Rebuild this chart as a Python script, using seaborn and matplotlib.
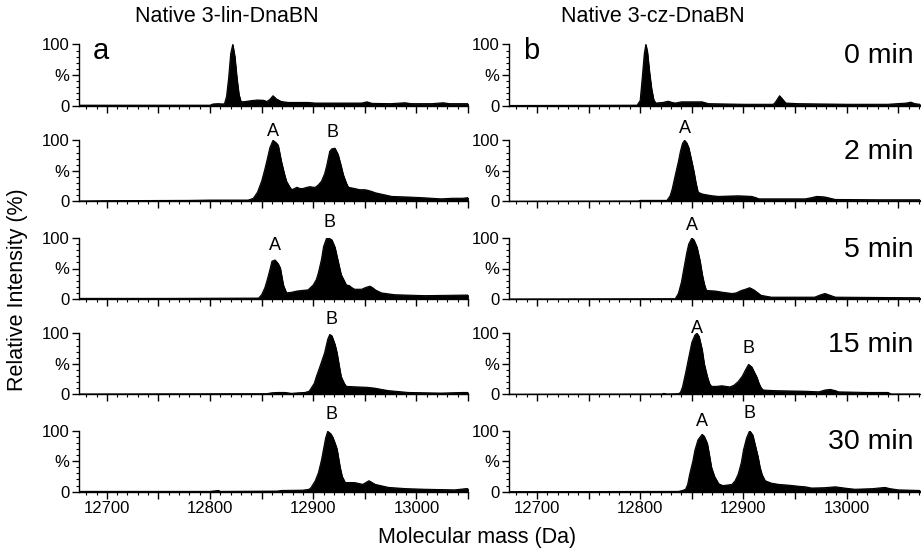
import matplotlib
matplotlib.use("Agg")
import matplotlib.pyplot as plt
import seaborn as sns
from matplotlib.ticker import FixedLocator, MultipleLocator, FuncFormatter

# ---- spectra (mass in Da, intensity in %) ----
lin_0_mass = [12673, 12800, 12803, 12808, 12812, 12814, 12816, 12818, 12820, 12822, 12824, 12826,
              12828, 12830, 12834, 12840, 12846, 12852, 12855, 12858, 12861, 12864, 12869, 12876,
              12895, 12902, 12930, 12947, 12952, 12957, 12975, 12989, 12995, 13015, 13026, 13032, 13050]
lin_0_int = [0.5, 0.5, 2.5, 3, 2.5, 3, 15, 45, 85, 100, 80, 45,
             18, 6, 6.5, 8, 9, 8.5, 6.5, 10, 16, 11, 6.5, 5,
             5, 4, 4, 4, 6, 3.5, 3, 4.5, 3, 3, 4.5, 3, 3]

lin_2_mass = [12673, 12700, 12780, 12800, 12837, 12842, 12846, 12850, 12853, 12855, 12858, 12861,
              12864, 12866, 12869, 12872, 12874, 12877, 12879, 12882, 12884, 12887, 12890, 12894,
              12897, 12900, 12902, 12905, 12908, 12911, 12913, 12916, 12918, 12921, 12924, 12927,
              12929, 12932, 12934, 12937, 12940, 12945, 12950, 12953, 12957, 12960, 12968, 12976,
              12992, 13005, 13024, 13035, 13045, 13050]
lin_2_int = [0.5, 1, 1.5, 2, 2, 5, 15, 33, 52, 66, 88, 100,
             96, 92, 66, 45, 33, 24, 19, 21, 23, 21, 21, 23,
             24, 23, 23, 27, 33, 45, 58, 82, 86, 87, 77, 58,
             44, 30, 23, 22, 21, 19, 19, 18, 16, 14, 11, 8,
             7, 6, 4, 5, 5, 6]

lin_5_mass = [12673, 12760, 12847, 12850, 12853, 12855, 12858, 12860, 12863, 12866, 12868, 12871,
              12874, 12879, 12884, 12889, 12895, 12900, 12903, 12905, 12908, 12910, 12913, 12916,
              12918, 12921, 12923, 12925, 12927, 12930, 12932, 12935, 12937, 12940, 12947, 12951,
              12955, 12958, 12960, 12966, 12979, 13008, 13030, 13050]
lin_5_int = [1, 1, 1.5, 7, 18, 29, 48, 62, 64, 58, 51, 23,
             10, 11, 13, 14, 15, 23, 32, 43, 65, 86, 100, 99,
             97, 85, 70, 55, 40, 30, 23, 22, 19, 16, 16, 19,
             21, 18, 15, 10, 7, 5.5, 6, 6.5]

lin_15_mass = [12673, 12855, 12860, 12866, 12873, 12879, 12886, 12892, 12896, 12898, 12901, 12903,
               12907, 12911, 12914, 12916, 12918, 12921, 12923, 12925, 12927, 12930, 12932, 12944,
               12952, 12960, 12966, 12973, 12992, 13024, 13045, 13050]
lin_15_int = [0.5, 1, 2.5, 3, 3, 1.5, 2.5, 3, 5, 10, 18, 29,
              48, 68, 90, 98, 96, 82, 68, 48, 29, 18, 13, 12,
              11.5, 10, 8, 6, 3, 2, 3, 3]

lin_30_mass = [12673, 12800, 12808, 12810, 12865, 12869, 12890, 12896, 12898, 12902, 12905, 12908,
               12910, 12912, 12914, 12917, 12919, 12921, 12923, 12926, 12928, 12931, 12940, 12948,
               12951, 12954, 12957, 12960, 12973, 12990, 13008, 13037, 13048, 13050]
lin_30_int = [0.5, 0.5, 2, 0.5, 1, 2, 2.5, 4, 7, 18, 31, 52,
              70, 88, 99, 95, 89, 80, 70, 40, 25, 15, 15, 12,
              15, 18, 15, 12, 7, 5, 4, 3, 5, 5]

cz_0_mass = [12673, 12797, 12800, 12802, 12804, 12805.5, 12807, 12809, 12811, 12813, 12815, 12822,
             12827, 12831, 12834, 12840, 12850, 12860, 12866, 12900, 12929, 12931, 12935, 12938,
             12941, 12953, 13000, 13040, 13058, 13062, 13066, 13071]
cz_0_int = [0, 0.5, 8, 45, 85, 100, 88, 55, 28, 10, 4, 5,
            7, 5, 4, 6, 6, 6, 3, 2, 2, 5.5, 16, 10,
            4, 3, 2, 2, 4, 5.5, 3, 2]

cz_2_mass = [12673, 12798, 12800, 12826, 12829, 12831, 12834, 12837, 12839, 12841, 12843, 12845,
             12847, 12850, 12852, 12854, 12856, 12860, 12863, 12870, 12876, 12885, 12895, 12902,
             12908, 12912, 12915, 12960, 12966, 12971, 12976, 12979, 12984, 12989, 13030, 13071]
cz_2_int = [0, 0.5, 1.5, 1.5, 9, 20, 43, 65, 82, 95, 100, 96,
            88, 65, 49, 30, 15, 12, 11, 9, 8, 8.5, 9, 8.5,
            8, 6, 4, 4, 6, 8, 7.5, 7, 5, 3, 2.5, 2.5]

cz_5_mass = [12673, 12834, 12837, 12840, 12842, 12845, 12847, 12850, 12852, 12855, 12858, 12860,
             12862, 12864, 12873, 12880, 12889, 12893, 12898, 12902, 12906, 12910, 12914, 12917,
             12927, 12969, 12975, 12979, 12984, 12989, 13071]
cz_5_int = [0, 0.5, 9, 28, 47, 75, 90, 100, 97, 85, 62, 41,
            25, 14, 13, 11, 9, 10, 14, 16, 18.5, 15, 10, 6,
            3, 3, 7, 9, 6, 3, 2]

cz_15_mass = [12673, 12821, 12823, 12826, 12837, 12839, 12841, 12844, 12847, 12850, 12853, 12855,
              12857, 12860, 12862, 12865, 12867, 12869, 12874, 12879, 12883, 12887, 12891, 12895,
              12899, 12902, 12905, 12908, 12910, 12913, 12915, 12917, 12919, 12930, 12944, 12960,
              12973, 12979, 12984, 12989, 12992, 13020, 13040, 13043, 13071]
cz_15_int = [0, 0.5, 1.5, 0.5, 1, 3, 12, 35, 60, 85, 97, 100,
             95, 73, 50, 29, 18, 13, 13, 14, 13, 12, 15, 21,
             30, 40, 49, 45, 38, 28, 18, 11, 7, 6, 5.5, 5,
             4, 7, 8, 6, 4, 3, 3, 0.5, 0.5]

cz_30_mass = [12673, 12837, 12841, 12844, 12846, 12848, 12851, 12853, 12856, 12860, 12862, 12865,
              12867, 12869, 12872, 12876, 12880, 12885, 12889, 12892, 12895, 12898, 12900, 12903,
              12906, 12909, 12911, 12914, 12916, 12918, 12921, 12927, 12934, 12945, 12953, 12960,
              12966, 12978, 12989, 13000, 13008, 13025, 13037, 13042, 13050, 13071]
cz_30_int = [0, 0.5, 2, 4, 12, 29, 50, 68, 85, 94, 91, 79,
             60, 40, 25, 13, 10, 11, 12, 18, 29, 48, 68, 88,
             100, 93, 79, 58, 40, 28, 18, 14, 12, 10.5, 9, 8,
             6, 6.5, 8, 5.5, 4, 5, 7, 5, 3, 2]

times = ["0 min", "2 min", "5 min", "15 min", "30 min"]
col_titles = ["Native 3-lin-DnaBN", "Native 3-cz-DnaBN"]
panel_letters = ["a", "b"]

lin_traces = [(lin_0_mass, lin_0_int), (lin_2_mass, lin_2_int), (lin_5_mass, lin_5_int),
              (lin_15_mass, lin_15_int), (lin_30_mass, lin_30_int)]
cz_traces = [(cz_0_mass, cz_0_int), (cz_2_mass, cz_2_int), (cz_5_mass, cz_5_int),
             (cz_15_mass, cz_15_int), (cz_30_mass, cz_30_int)]

# peak labels: (text, mass, height above axis in % units)
lin_labels = [[], [("A", 12861, 114), ("B", 12919, 113)], [("A", 12863, 87), ("B", 12916, 125)],
              [("B", 12918, 123)], [("B", 12918, 127)]]
cz_labels = [[], [("A", 12843, 120)], [("A", 12850, 120)],
             [("A", 12855, 108), ("B", 12905, 75)], [("A", 12860, 115), ("B", 12906, 128)]]

sns.set_theme(style="ticks")
plt.rcParams["font.family"] = ["Liberation Sans", "DejaVu Sans"]
for key in ("text.color", "axes.labelcolor", "xtick.color", "ytick.color", "axes.edgecolor"):
    plt.rcParams[key] = "black"

W, H = 921, 549
fig = plt.figure(figsize=(W / 100, H / 100), dpi=100)

row_bottoms = [105.5, 201.3, 299.0, 394.3, 491.7]
row_h = 61.0
cols = [(79, 389, (12673, 13050)), (509, 411, (12673, 13071))]


def draw_panel(ax, mass, inten, xlim, bottom_row):
    sns.lineplot(x=mass, y=inten, color="black", lw=0.8, ax=ax, sort=False)
    ax.fill_between(mass, inten, 0, facecolor="black", edgecolor="black", lw=0.6)
    ax.set_xlim(*xlim)
    ax.set_ylim(0, 100)
    for s in ("top", "right"):
        ax.spines[s].set_visible(False)
    for s in ("left", "bottom"):
        ax.spines[s].set_linewidth(1.0)
    ax.yaxis.set_major_locator(FixedLocator([0, 50, 100]))
    ax.set_yticklabels(["0", "%", "100"])
    ax.yaxis.set_minor_locator(MultipleLocator(10))
    ax.xaxis.set_major_locator(MultipleLocator(50))
    ax.xaxis.set_minor_locator(MultipleLocator(10))
    ax.xaxis.set_major_formatter(
        FuncFormatter(lambda v, p: f"{v:.0f}" if round(v) % 100 == 0 else ""))
    ax.tick_params(which="major", direction="out", length=5, width=1, labelsize=12, pad=2)
    ax.tick_params(which="minor", direction="out", length=2.5, width=0.8)
    if not bottom_row:
        ax.tick_params(axis="x", labelbottom=False)
    ax.set_xlabel("")
    ax.set_ylabel("")
    ax.grid(False)


for c, (x0, w, xlim) in enumerate(cols):
    traces = lin_traces if c == 0 else cz_traces
    labels = lin_labels if c == 0 else cz_labels
    for r in range(5):
        ax = fig.add_axes([x0 / W, 1 - row_bottoms[r] / H, w / W, row_h / H])
        mass, inten = traces[r]
        draw_panel(ax, mass, inten, xlim, r == 4)
        for txt, mx, my in labels[r]:
            ax.text(mx, my, txt, ha="center", va="center", fontsize=13, clip_on=False)
        if c == 1:
            ax.text(0.985, 0.81, times[r], transform=ax.transAxes, ha="right", va="center",
                    fontsize=20.5)
        if r == 0:
            ax.text(0.035, 0.77, panel_letters[c], transform=ax.transAxes, ha="left",
                    va="baseline", fontsize=21)

fig.text(227 / W, 1 - 17 / H, col_titles[0], ha="center", va="center", fontsize=15.5)
fig.text(653 / W, 1 - 17 / H, col_titles[1], ha="center", va="center", fontsize=15.5)
fig.text(477 / W, 1 - 538 / H, "Molecular mass (Da)", ha="center", va="center", fontsize=15.5)
fig.text(18 / W, 1 - 290 / H, "Relative Intensity (%)", ha="center", va="center",
         rotation=90, fontsize=15.5)

fig.savefig("out.png", dpi=100)
